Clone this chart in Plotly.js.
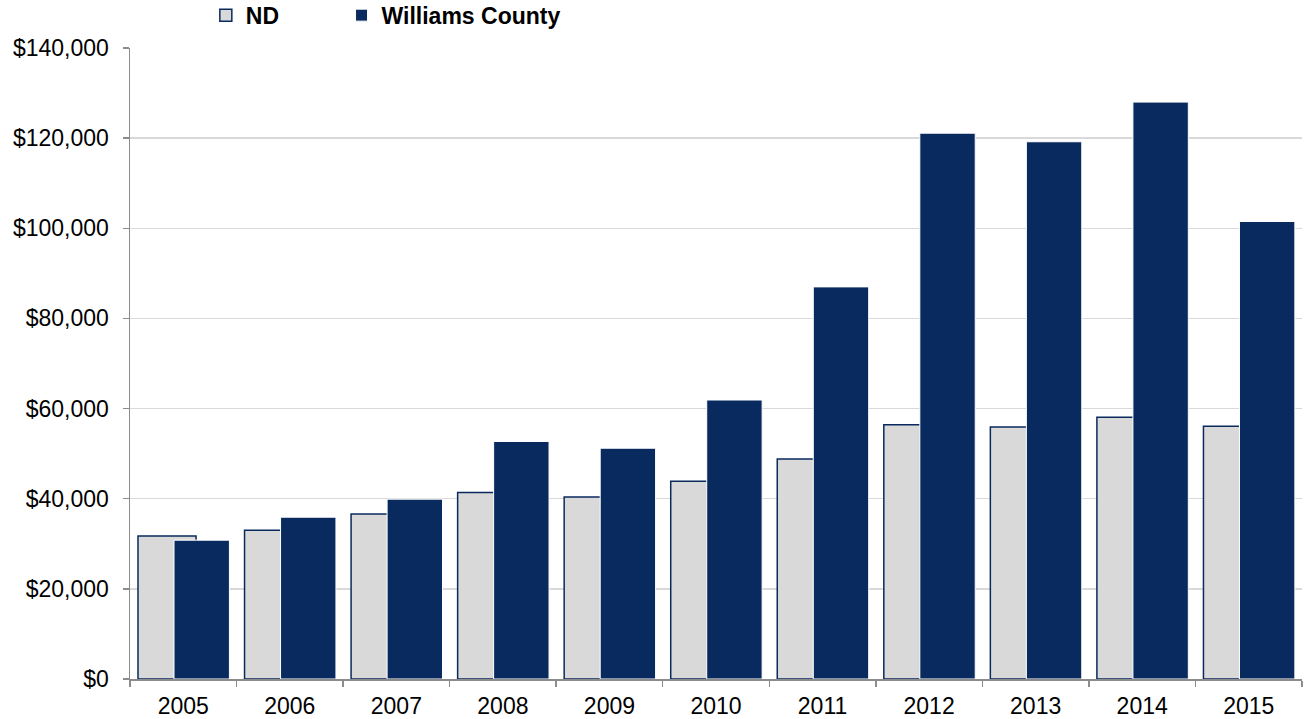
<!DOCTYPE html>
<html><head><meta charset="utf-8">
<script src="https://cdn.plot.ly/plotly-3.0.1.min.js"></script>
<style>html,body{margin:0;padding:0;background:#fff;}#chart{width:1307px;height:719px;}</style>
</head><body><div id="chart"></div>
<script>
const years = ['2005','2006','2007','2008','2009','2010','2011','2012','2013','2014','2015'];
const ndValues = [31700, 33000, 36600, 41400, 40400, 43900, 48800, 56400, 55900, 58100, 56100];
const williamsValues = [30800, 35900, 39900, 52700, 51200, 61900, 87000, 121100, 119200, 128000, 101500];
const yTicks = [0, 20000, 40000, 60000, 80000, 100000, 120000, 140000];
const yTickLabels = ['$0','$20,000','$40,000','$60,000','$80,000','$100,000','$120,000','$140,000'];

const traces = [
  {type:'bar', name:'ND', x: years, y: ndValues, width: 0.545, offset: -0.425,
   marker:{color:'#d9d9d9', line:{color:'#0a2a5e', width:1.5}}, hoverinfo:'y', legend:'legend'},
  {type:'bar', name:'Williams County', x: years, y: williamsValues, width: 0.52, offset: -0.087,
   marker:{color:'#082a5e', line:{color:'#ffffff', width:1}}, hoverinfo:'y', legend:'legend2'}
];
const legendFont = {size:23, family:'Liberation Sans, Arial, sans-serif', weight:'bold', color:'#000'};
const layout = {
  width:1307, height:719,
  margin:{l:130, r:5, t:48, b:40, autoexpand:false},
  paper_bgcolor:'#fff', plot_bgcolor:'#fff',
  barmode:'overlay',
  font:{family:'Liberation Sans, Arial, sans-serif', size:23, color:'#000'},
  showlegend:true,
  legend:{orientation:'h', x:0.0647, xanchor:'left', y:1.052, yanchor:'middle',
    font:legendFont, itemwidth:30, bgcolor:'rgba(0,0,0,0)'},
  legend2:{orientation:'h', x:0.1805, xanchor:'left', y:1.052, yanchor:'middle',
    font:legendFont, itemwidth:30, bgcolor:'rgba(0,0,0,0)'},
  xaxis:{type:'category', showline:true, linecolor:'#8c8c8c', linewidth:1.5,
    ticks:'outside', tickson:'boundaries', ticklen:6, tickcolor:'#8c8c8c', tickwidth:1.5,
    ticklabelstandoff:6,
    showgrid:false, tickfont:{size:23}, range:[-0.5, 10.5], fixedrange:true},
  yaxis:{range:[0,140000], tickvals:yTicks, ticktext:yTickLabels, showline:true,
    linecolor:'#8c8c8c', linewidth:1.5, ticks:'outside', ticklen:6, tickcolor:'#8c8c8c', tickwidth:1.5,
    ticklabelstandoff:9,
    showgrid:true, gridcolor:'#d9d9d9', gridwidth:1.5, zeroline:false, tickfont:{size:23}, fixedrange:true}
};
Plotly.newPlot('chart', traces, layout, {displayModeBar:false, staticPlot:true});
</script></body></html>
